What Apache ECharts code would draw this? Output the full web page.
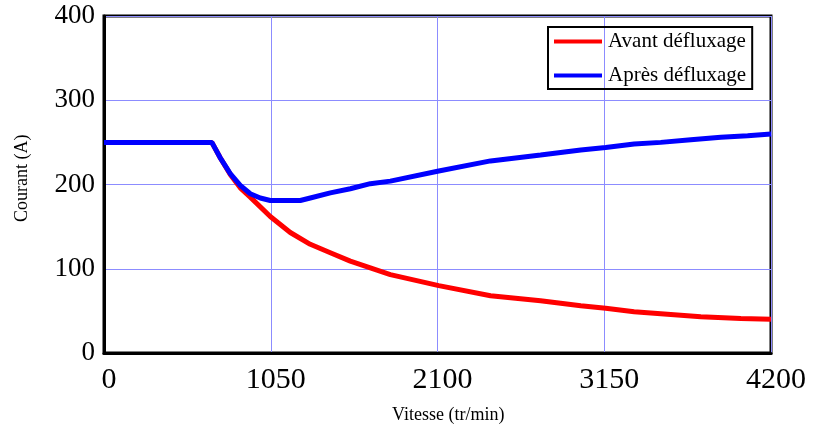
<!DOCTYPE html>
<html>
<head>
<meta charset="utf-8">
<script src="https://cdn.jsdelivr.net/npm/echarts@6/dist/echarts.min.js"></script>
<style>html,body{margin:0;padding:0;background:#fff;}#c{width:816px;height:427px;}</style>
</head>
<body>
<div id="c"></div>
<script>
// Speed (tr/min) and current (A)
const avantX = [0, 679, 731, 795, 858, 921, 1047, 1173, 1299, 1425, 1551, 1677, 1803, 2108, 2434, 2749, 3002, 3159, 3338, 3548, 3758, 4010, 4200];
const avantY = [250, 250, 232, 212, 196, 185, 162, 143, 129, 119, 109, 101, 93, 80, 68, 62, 56, 53, 49, 46, 43, 41, 40];
const apresX = [0, 679, 731, 795, 858, 921, 984, 1047, 1236, 1299, 1425, 1551, 1677, 1803, 2108, 2434, 2749, 3002, 3159, 3338, 3506, 3695, 3884, 4053, 4200];
const apresY = [250, 250, 232, 213, 199, 189, 184, 181, 181, 184, 190, 195, 201, 204, 216, 228, 235, 241, 244, 248, 250, 253, 256, 258, 260];
const seriesNames = ['Avant défluxage', 'Après défluxage'];
const xTitle = 'Vitesse (tr/min)';
const yTitle = 'Courant (A)';

const serif = '"Liberation Serif", "DejaVu Serif", serif';
const chart = echarts.init(document.getElementById('c'), null, {renderer: 'canvas'});
const zip = (xs, ys) => xs.map((x, i) => [x, ys[i]]);
chart.setOption({
  animation: false,
  backgroundColor: '#fff',
  grid: {left: 104, right: 45, top: 16, bottom: 74, show: true, borderColor: '#000', borderWidth: 3},
  xAxis: {
    type: 'value', min: 0, max: 4200, interval: 1050,
    axisLine: {show: true, lineStyle: {color: '#000', width: 3}},
    axisTick: {show: false},
    splitLine: {show: true, lineStyle: {color: '#8c8cff', width: 1}},
    axisLabel: {color: '#000', fontFamily: serif, fontSize: 30, margin: 12, padding: [0, 0, 0, 10],
      formatter: v => String(v)}
  },
  yAxis: {
    type: 'value', min: 0, max: 400, interval: 100,
    axisLine: {show: true, lineStyle: {color: '#000', width: 3}},
    axisTick: {show: false},
    splitLine: {show: true, lineStyle: {color: '#8c8cff', width: 1}},
    axisLabel: {color: '#000', fontFamily: serif, fontSize: 27, margin: 9}
  },
  legend: {
    orient: 'vertical', left: 548, top: 27,
    borderColor: '#000', borderWidth: 2, padding: [4, 6, 3, 6],
    itemWidth: 48, itemHeight: 4, itemGap: 13, icon: 'rect',
    textStyle: {fontFamily: serif, fontSize: 21, color: '#000', padding: [0, 0, 0, 1]},
    data: seriesNames
  },
  graphic: [
    {type: 'text', left: 392, top: 406, style: {text: xTitle, font: '18px ' + serif, fill: '#000'}},
    {type: 'text', x: 13, y: 222, rotation: Math.PI / 2, style: {text: yTitle, font: '18px ' + serif, fill: '#000'}}
  ],
  series: [
    {name: seriesNames[0], type: 'line', data: zip(avantX, avantY), showSymbol: false, symbol: 'none',
     lineStyle: {color: '#ff0000', width: 5}, itemStyle: {color: '#ff0000'}},
    {name: seriesNames[1], type: 'line', data: zip(apresX, apresY), showSymbol: false, symbol: 'none',
     lineStyle: {color: '#0000ff', width: 5}, itemStyle: {color: '#0000ff'}}
  ]
});
</script>
</body>
</html>
